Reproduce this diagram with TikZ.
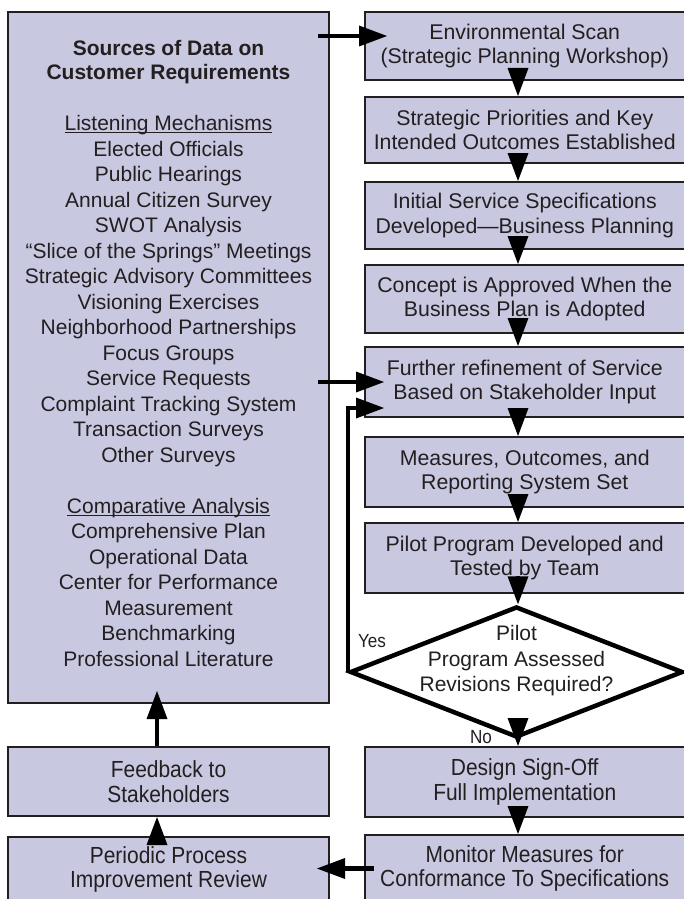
\documentclass[tikz,border=0pt]{standalone}
\usepackage{fontspec}
\setmainfont{Liberation Sans}
\newfontfamily\condfont[FakeStretch=0.9]{Liberation Sans}
\usetikzlibrary{arrows.meta, shapes.geometric}
\definecolor{lav}{RGB}{200,200,225}
\definecolor{ink}{RGB}{35,31,32}
\newcommand{\undl}[1]{\setbox0\hbox{#1}\rlap{\rule[-2.5pt]{\wd0}{0.9pt}}\box0}

\begin{document}
\begin{tikzpicture}[x=1pt, y=-1pt,
  box/.style={draw=ink, line width=2pt, fill=lav, text=ink, align=center, inner sep=0pt,
    font=\fontsize{21.3}{24.5}\selectfont},
  rbox/.style={box, minimum width=319.5pt, minimum height=#1},
  lbox/.style={box, minimum width=321pt, minimum height=#1},
  cond/.style={font=\condfont\fontsize{23.3}{24.8}\selectfont},
  decision/.style={shape=diamond, draw=black, line width=4.5pt, fill=white, inner sep=0pt,
    minimum width=333pt, minimum height=131pt},
  dtext/.style={align=center, text=ink, inner sep=0pt, font=\fontsize{21}{25.5}\selectfont},
  yn/.style={text=ink, inner sep=0pt, font=\condfont\fontsize{19}{20}\selectfont},
  flow/.style={draw=black, line width=4.5pt, -{Triangle[length=28pt, width=21pt, line width=0pt]}}]
\useasboundingbox (0,0) rectangle (684,899);
\coordinate (ax) at (518,0);
\coordinate (axl) at (157,0);

% sources box
\node (src) at (168.5,357.5) [lbox=691pt] {};
\node (srctxt) at ([yshift=4pt]src.center) [align=center, text=ink, inner sep=0pt,
    font=\fontsize{21}{25.5}\selectfont]
  {\textbf{Sources of Data on}\\[-1.5pt]
   \textbf{Customer Requirements}\\[25.5pt]
   \undl{Listening Mechanisms}\\
   Elected Officials\\ Public Hearings\\ Annual Citizen Survey\\ SWOT Analysis\\
   “Slice of the Springs” Meetings\\ Strategic Advisory Committees\\
   Visioning Exercises\\ Neighborhood Partnerships\\ Focus Groups\\
   Service Requests\\ Complaint Tracking System\\ Transaction Surveys\\
   Other Surveys\\[25.5pt]
   \undl{Comparative Analysis}\\
   Comprehensive Plan\\ Operational Data\\ Center for Performance\\
   Measurement\\ Benchmarking\\ Professional Literature};
\node (fb) at (168.5,781.5) [lbox=69pt, cond] {Feedback to\\Stakeholders};
\node (per) at (168.5,869.5) [lbox=65pt, cond] {Periodic Process\\Improvement Review};

% right column
\node (b1) at (524.75,46) [rbox=68pt] {Environmental Scan\\(Strategic Planning Workshop)};
\node (b2) at (524.75,130) [rbox=66pt] {Strategic Priorities and Key\\Intended Outcomes Established};
\node (b3) at (524.75,215.5) [rbox=67pt] {Initial Service Specifications\\Developed—Business Planning};
\node (b4) at (524.75,299) [rbox=68pt] {Concept is Approved When the\\Business Plan is Adopted};
\node (b5) at (524.75,382) [rbox=70pt] {Further refinement of Service\\Based on Stakeholder Input};
\node (b6) at (524.75,472) [rbox=70pt] {Measures, Outcomes, and\\Reporting System Set};
\node (b7) at (524.75,558) [rbox=70pt] {Pilot Program Developed and\\Tested by Team};
\node (dec) at (516.5,672) [decision] {};
\node (dectxt) at ([yshift=11pt]dec.center) [dtext] {Pilot\\Program Assessed\\Revisions Required?};
\node (b8) at (524.75,782) [rbox=70pt, cond] {Design Sign-Off\\Full Implementation};
\node (b9) at (524.75,868.5) [rbox=67pt, cond] {Monitor Measures for\\Conformance To Specifications};

\node (yes) at (372,641) [yn] {Yes};
\node (no) at (481,737) [yn] {No};

% arrows
\foreach \a/\b in {b1/b2, b2/b3, b3/b4, b4/b5, b5/b6, b6/b7, b7/dec, dec/b8, b8/b9}
  \draw [flow] (\a.south -| ax) -- (\b.north -| ax);
\draw [flow] ([xshift=-12pt, yshift=10pt]src.east |- b1.west) -- ([xshift=23pt, yshift=10pt]b1.west);
\draw [flow] ([xshift=-12pt]src.east |- b5.west) -- ([xshift=20pt]b5.west);
\draw [flow] (dec.west) |- ([xshift=20pt, yshift=10pt]b5.south west);
\draw [flow] ([xshift=10pt]b9.west) -- ([xshift=-13pt]per.east |- b9.west);
\draw [flow] (per.north -| axl) -- (fb.south -| axl);
\draw [flow] (fb.north -| axl) -- ([yshift=13pt]src.south -| axl);
\end{tikzpicture}
\end{document}
